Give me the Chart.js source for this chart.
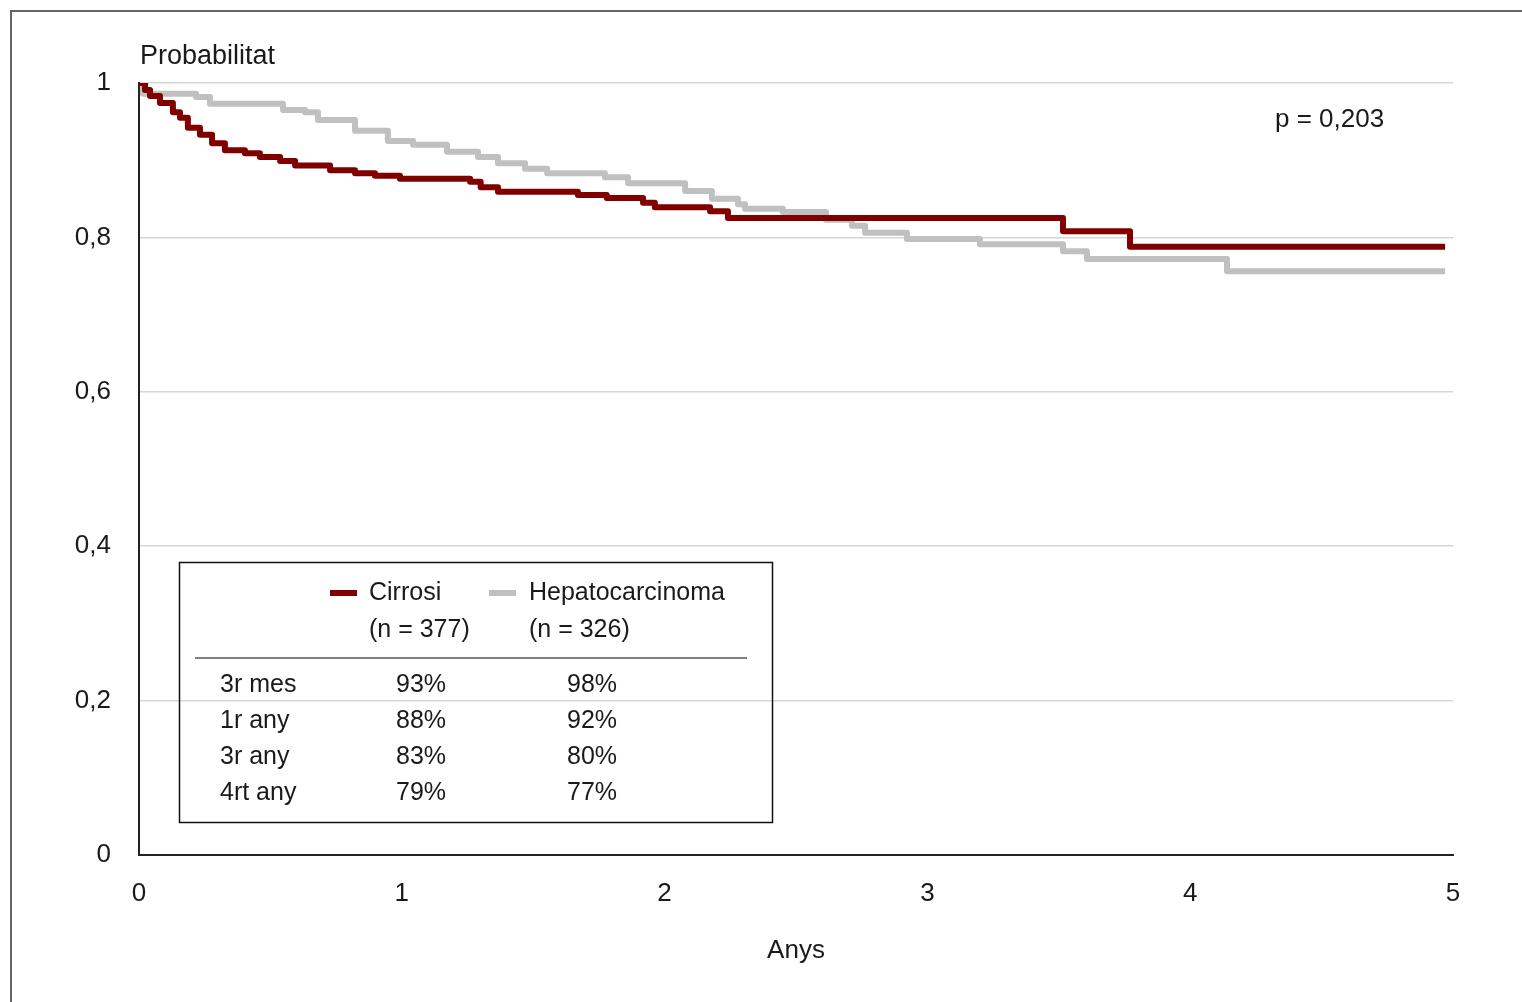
<!DOCTYPE html>
<html>
<head>
<meta charset="utf-8">
<script src="https://cdn.jsdelivr.net/npm/chart.js@4/dist/chart.umd.min.js"></script>
<style>
  html, body { margin: 0; padding: 0; background: #fff; }
  #wrap { width: 1522px; height: 1002px; }
</style>
</head>
<body>
<div id="wrap"><canvas id="chart" width="1522" height="1002"></canvas></div>
<script>
// Kaplan-Meier curves (years, survival probability)
const cirrosiTime = [0, 0.023, 0.042, 0.08, 0.129, 0.156, 0.186, 0.232, 0.278, 0.327, 0.403, 0.46, 0.537, 0.594, 0.727, 0.822, 0.898, 0.993, 1.26, 1.30, 1.366, 1.67, 1.78, 1.918, 1.963, 2.173, 2.241, 3.516, 3.771, 4.97];
const cirrosiSurv = [1, 0.991, 0.983, 0.974, 0.962, 0.955, 0.942, 0.933, 0.922, 0.913, 0.909, 0.904, 0.899, 0.893, 0.887, 0.883, 0.880, 0.876, 0.872, 0.865, 0.859, 0.855, 0.851, 0.845, 0.839, 0.834, 0.825, 0.808, 0.788, 0.788];

const hepatoTime = [0, 0.015, 0.217, 0.27, 0.548, 0.632, 0.681, 0.822, 0.947, 1.043, 1.172, 1.29, 1.366, 1.469, 1.553, 1.773, 1.861, 2.078, 2.18, 2.279, 2.306, 2.45, 2.614, 2.713, 2.763, 2.922, 3.2, 3.516, 3.607, 4.14, 4.97];
const hepatoSurv = [1, 0.986, 0.982, 0.973, 0.965, 0.962, 0.952, 0.938, 0.925, 0.920, 0.911, 0.904, 0.896, 0.889, 0.883, 0.878, 0.870, 0.860, 0.850, 0.843, 0.837, 0.833, 0.823, 0.815, 0.806, 0.798, 0.791, 0.782, 0.772, 0.756, 0.756];

const seriesNames = ['Cirrosi', 'Hepatocarcinoma'];
const seriesN = [377, 326];
const seriesColors = ['#800000', '#c0c0c0'];

const yTickLabels = ['0', '0,2', '0,4', '0,6', '0,8', '1'];
const xTickLabels = ['0', '1', '2', '3', '4', '5'];

// summary table inside the legend box
const tableRows = ['3r mes', '1r any', '3r any', '4rt any'];
const cirrosiPct = [93, 88, 83, 79];
const hepatoPct = [98, 92, 80, 77];

const yLabel = 'Probabilitat';
const xLabel = 'Anys';
const pValue = 'p = 0,203';

const FONT = '"Liberation Sans", Arial, sans-serif';
const TEXT = '#1a1a1a';

const toPoints = (t, s) => t.map((x, i) => ({ x, y: s[i] }));

const extrasPlugin = {
  id: 'extras',
  beforeDraw(chart) {
    const ctx = chart.ctx;
    ctx.save();
    ctx.fillStyle = '#fff';
    ctx.fillRect(0, 0, chart.width, chart.height);
    // outer frame (left + top visible)
    ctx.strokeStyle = '#666';
    ctx.lineWidth = 2;
    ctx.beginPath();
    ctx.moveTo(11, chart.height);
    ctx.lineTo(11, 11);
    ctx.lineTo(chart.width, 11);
    ctx.stroke();
    ctx.restore();
  },
  afterDraw(chart) {
    const ctx = chart.ctx;
    const area = chart.chartArea;
    ctx.save();
    ctx.fillStyle = TEXT;
    ctx.textBaseline = 'middle';
    ctx.textAlign = 'left';
    ctx.font = '27px ' + FONT;
    ctx.fillText(yLabel, area.left + 1, 57);
    ctx.font = '26px ' + FONT;
    ctx.fillText(pValue, 1275, 120);

    // legend box
    ctx.strokeStyle = '#111';
    ctx.lineWidth = 1.5;
    ctx.strokeRect(179.5, 562.5, 593, 260);

    const colX = [369, 529];
    const markX = [330, 489];
    ctx.font = '25px ' + FONT;
    seriesNames.forEach((name, i) => {
      ctx.fillStyle = seriesColors[i];
      ctx.fillRect(markX[i], 590, 27, 6);
      ctx.fillStyle = TEXT;
      ctx.fillText(name, colX[i], 593);
      ctx.fillText('(n = ' + seriesN[i] + ')', colX[i], 630);
    });

    ctx.strokeStyle = '#808080';
    ctx.lineWidth = 2;
    ctx.beginPath();
    ctx.moveTo(195, 658);
    ctx.lineTo(747, 658);
    ctx.stroke();

    const rowY = [685, 721, 757, 793];
    tableRows.forEach((row, i) => {
      ctx.textAlign = 'left';
      ctx.fillText(row, 220, rowY[i]);
      ctx.textAlign = 'center';
      ctx.fillText(cirrosiPct[i] + '%', 421, rowY[i]);
      ctx.fillText(hepatoPct[i] + '%', 592, rowY[i]);
    });
    ctx.restore();
  }
};

new Chart(document.getElementById('chart'), {
  type: 'line',
  data: {
    datasets: [
      {
        label: seriesNames[0],
        data: toPoints(cirrosiTime, cirrosiSurv),
        borderColor: seriesColors[0],
        borderWidth: 6,
        borderJoinStyle: 'round',
        stepped: true,
        pointRadius: 0,
        fill: false
      },
      {
        label: seriesNames[1],
        data: toPoints(hepatoTime, hepatoSurv),
        borderColor: seriesColors[1],
        borderWidth: 6,
        borderJoinStyle: 'round',
        stepped: true,
        pointRadius: 0,
        fill: false
      }
    ]
  },
  options: {
    responsive: false,
    animation: false,
    devicePixelRatio: 1,
    layout: { padding: { left: 10, top: 83, right: 69, bottom: 0 } },
    plugins: {
      legend: { display: false },
      tooltip: { enabled: false }
    },
    scales: {
      x: {
        type: 'linear',
        min: 0,
        max: 5,
        ticks: {
          stepSize: 1,
          padding: 23,
          color: TEXT,
          font: { family: FONT, size: 26 },
          callback: (v, i) => xTickLabels[i]
        },
        grid: { display: false, drawTicks: false },
        border: { display: true, color: '#222', width: 2 },
        title: {
          display: true,
          text: xLabel,
          color: TEXT,
          font: { family: FONT, size: 26 },
          padding: { top: 0, bottom: 36 }
        },
        afterFit: s => { s.height = 147; }
      },
      y: {
        min: 0,
        max: 1,
        ticks: {
          stepSize: 0.2,
          padding: 28,
          color: TEXT,
          font: { family: FONT, size: 26 },
          callback: (v, i) => yTickLabels[i]
        },
        grid: { color: '#d6d6d6', lineWidth: 1.5, drawTicks: false },
        border: { display: true, color: '#222', width: 2 },
        afterFit: s => { s.width = 129; }
      }
    }
  },
  plugins: [extrasPlugin]
});
</script>
</body>
</html>
